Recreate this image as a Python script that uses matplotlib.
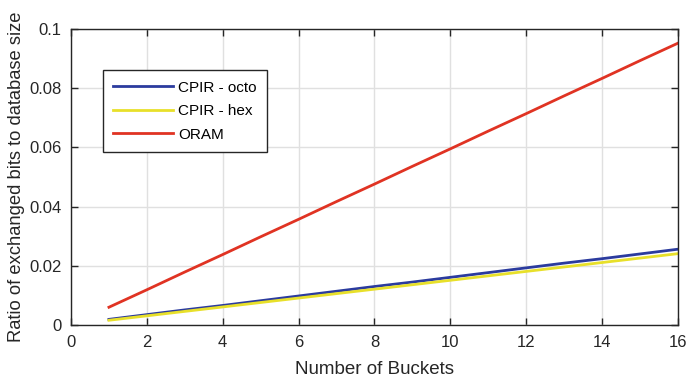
import matplotlib.pyplot as plt

plt.rcParams['font.family'] = ['Liberation Sans', 'DejaVu Sans']

# Data
buckets = [1, 2, 3, 4, 5, 6, 7, 8, 9, 10, 11, 12, 13, 14, 15, 16]
cpir_octo = [0.0019, 0.0035, 0.0051, 0.0066, 0.0082, 0.0098, 0.0114, 0.0130,
             0.0145, 0.0161, 0.0177, 0.0193, 0.0209, 0.0224, 0.0240, 0.0256]
cpir_hex = [0.0016, 0.0031, 0.0046, 0.0061, 0.0076, 0.0091, 0.0106, 0.0121,
            0.0136, 0.0151, 0.0166, 0.0181, 0.0196, 0.0211, 0.0226, 0.0241]
oram = [0.0060, 0.0119, 0.0179, 0.0238, 0.0298, 0.0357, 0.0417, 0.0476,
        0.0536, 0.0595, 0.0655, 0.0714, 0.0774, 0.0833, 0.0893, 0.0952]

fig = plt.figure(figsize=(6.86, 3.81), dpi=100)
ax = fig.add_axes([0.1035, 0.147, 0.8848, 0.777])

ax.plot(buckets, cpir_octo, color='#2b3b9e', lw=2, label='CPIR - octo')
ax.plot(buckets, cpir_hex, color='#e8e02a', lw=2, label='CPIR - hex')
ax.plot(buckets, oram, color='#e03323', lw=2, label='ORAM')

ax.set_xlim(0, 16)
ax.set_ylim(0, 0.1)
ax.set_xticks(range(0, 17, 2))
ax.set_yticks([0, 0.02, 0.04, 0.06, 0.08, 0.1])
ax.set_yticklabels(['0', '0.02', '0.04', '0.06', '0.08', '0.1'])
ax.grid(True, color='#e0e0e0', lw=1)
ax.set_axisbelow(True)
ax.tick_params(direction='in', top=True, right=True, labelsize=12,
               length=5, width=1, colors='#262626')
ax.tick_params(axis='x', pad=7)
ax.tick_params(axis='y', pad=7)
for s in ax.spines.values():
    s.set_color('#262626')
    s.set_linewidth(1)

ax.set_xlabel('Number of Buckets', fontsize=13.5, color='#262626', labelpad=8)
ax.set_ylabel('Ratio of exchanged bits to database size', fontsize=13.2,
              color='#262626', labelpad=3)

leg = ax.legend(loc='upper left', bbox_to_anchor=(0.052, 0.861), fontsize=11,
                fancybox=False, framealpha=1, edgecolor='#262626',
                borderaxespad=0, handlelength=3.9, handletextpad=0.35,
                borderpad=0.7, labelspacing=0.62)
leg.get_frame().set_linewidth(1)

fig.savefig('out.png', dpi=100)
